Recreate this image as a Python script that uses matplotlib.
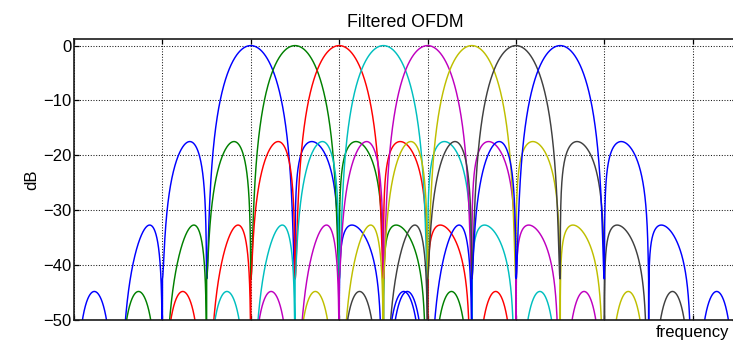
import numpy as np
import matplotlib
matplotlib.use("Agg")
import matplotlib.pyplot as plt

# ---------------- data ----------------
# subcarrier centre frequencies (grid units)
centers = [2.0, 2.5, 3.0, 3.5, 4.0, 4.5, 5.0, 5.5]
colors = [(0, 0, 1), (0, 0.5, 0), (1, 0, 0), (0, 0.75, 0.75),
          (0.75, 0, 0.75), (0.75, 0.75, 0), (0.25, 0.25, 0.25), (0, 0, 1)]

# lobe description relative to a subcarrier centre (main lobe, 1st, 2nd, 3rd sidelobe)
lobe_peak_db = [0.0, -17.5, -32.7, -44.8]
lobe_peak_offset = [0.0, 0.69, 1.144, 1.77]
lobe_inner_null = [-0.5, 0.5, 1.0, 1.55]
lobe_outer_null = [0.5, 1.0, 1.48, 1.98]
lobe_shape = [1.5, 0.7, 0.7, 1.0]
first_null_db = -42.5          # depth of the null between main lobe and 1st sidelobe

yticks = [0, -10, -20, -30, -40, -50]
xticks = [0, 1, 2, 3, 4, 5, 6, 7]


def lobe(a, b, peak, level, shape, n=600):
    """one lobe between nulls a and b (a<b), peaking at `peak` with `level` dB"""
    t = np.linspace(0.0, 1.0, n)
    q = (peak - a) / (b - a)
    g = np.log(0.5) / np.log(q)
    s = t ** g
    amp = np.maximum(np.sin(np.pi * s), 1e-7)
    return a + t * (b - a), level + shape * 20 * np.log10(amp)


def spectrum(c):
    xs, ys = [], []
    # left sidelobes, outermost first
    for k in range(len(lobe_peak_db) - 1, 0, -1):
        x, y = lobe(c - lobe_outer_null[k], c - lobe_inner_null[k],
                    c - lobe_peak_offset[k], lobe_peak_db[k], lobe_shape[k])
        if k == 1:
            y = 10 * np.log10(10 ** (y / 10) + 10 ** (first_null_db / 10))
        xs.append(x); ys.append(y)
    # main lobe
    x, y = lobe(c + lobe_inner_null[0], c + lobe_outer_null[0],
                c + lobe_peak_offset[0], lobe_peak_db[0], lobe_shape[0])
    y = 10 * np.log10(10 ** (y / 10) + 10 ** (first_null_db / 10))
    xs.append(x); ys.append(y)
    # right sidelobes
    for k in range(1, len(lobe_peak_db)):
        x, y = lobe(c + lobe_inner_null[k], c + lobe_outer_null[k],
                    c + lobe_peak_offset[k], lobe_peak_db[k], lobe_shape[k])
        if k == 1:
            y = 10 * np.log10(10 ** (y / 10) + 10 ** (first_null_db / 10))
        xs.append(x); ys.append(y)
    return np.concatenate(xs), np.concatenate(ys)


plt.rcParams['font.family'] = ['Liberation Sans', 'DejaVu Sans']

fig = plt.figure(figsize=(7.33, 3.40), dpi=100)
ax = fig.add_axes([74 / 733, 1 - 320 / 340, (737 - 74) / 733, (320 - 39) / 340])

for c, col in zip(centers, colors):
    x, y = spectrum(c)
    ax.plot(x, y, color=col, lw=1.05)

ax.set_xlim(0, 7.5)
ax.set_ylim(-50, 1.2)
ax.set_xticks(xticks)
ax.set_xticklabels([])
ax.set_yticks(yticks)
ax.tick_params(direction='in', length=3.5, width=0.9, top=True, right=True,
               labelsize=12, pad=1.5, colors='black')
ax.grid(True, color='0.1', linestyle=(0, (1, 1.6)), linewidth=0.75)
for sp in ax.spines.values():
    sp.set_linewidth(1.2)
    sp.set_color('0.1')

ax.set_title('Filtered OFDM', fontsize=12.8, pad=8.5)
ax.set_ylabel('dB', fontsize=12, labelpad=3)
fig.text(729 / 733, 1 - 333 / 340, 'frequency', ha='right', va='center', fontsize=12)

fig.savefig('out.png', dpi=100)
